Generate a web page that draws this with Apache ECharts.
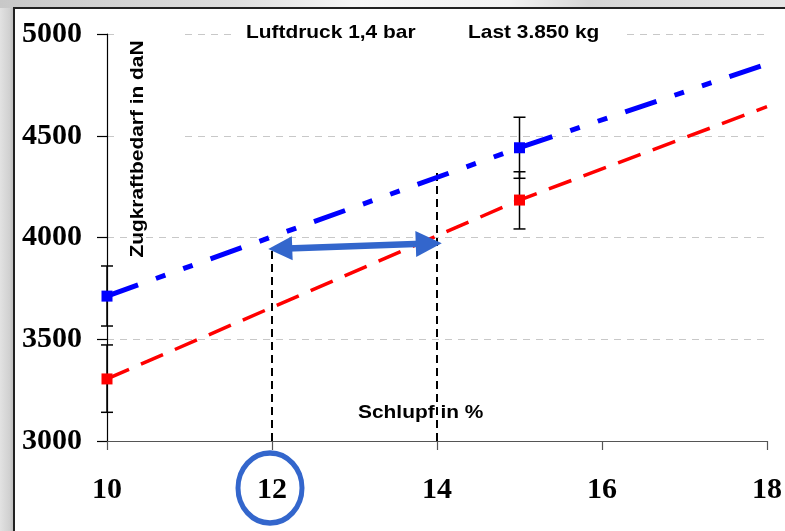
<!DOCTYPE html>
<html><head><meta charset="utf-8">
<script src="https://cdn.jsdelivr.net/npm/echarts@6/dist/echarts.min.js"></script>
<style>html,body{margin:0;padding:0;background:#fff}#c{width:785px;height:531px}</style>
</head><body><div id="c"></div>
<script>
// Schlupf (%) positions of the trend lines
const slipX = [10, 15, 18];
const drawbarBlue = [3712, 4441, 4853];
const drawbarRed = [3305, 4184, 4643];
const markerShown = [true, true, false];
// error bars
const errX = [10, 15];
const blueErrLow = [3565, 4291];
const blueErrHigh = [3860, 4591];
const redErrLow = [3141, 4042];
const redErrHigh = [3472, 4323];
// vertical reference lines
const refX = [12, 14];
const refTop = [3950, 4325];
// double arrow (symbol centres)
const arrowFrom = [12.1, 3945];
const arrowTo = [13.9, 3970];
// axes
const xMin = 10, xMax = 18, xStep = 2;
const yMin = 3000, yMax = 5000, yStep = 500;
const circledTick = 12;

const chart = echarts.init(document.getElementById('c'));

function lineData(vals) {
  return slipX.map((x, i) => markerShown[i] ? [x, vals[i]] : {value: [x, vals[i]], symbol: 'none'});
}
const errData = [];
errX.forEach((x, i) => { errData.push([x, blueErrLow[i], blueErrHigh[i]]); errData.push([x, redErrLow[i], redErrHigh[i]]); });

const labelFont = {fontFamily: '"Liberation Serif", "DejaVu Serif", serif', fontWeight: 'bold', fontSize: 30, color: '#000'};

chart.setOption({
  animation: false,
  backgroundColor: '#fff',
  grid: {left: 107, right: 14, top: 34, bottom: 90, containLabel: false},
  xAxis: {
    type: 'value', min: xMin, max: xMax, interval: xStep,
    axisLine: {show: true, onZero: false, lineStyle: {color: '#555', width: 1.2}},
    axisTick: {show: true, length: 9, lineStyle: {color: '#555', width: 1.2}},
    axisLabel: Object.assign({margin: 34, formatter: v => String(v)}, labelFont),
    splitLine: {show: false}
  },
  yAxis: {
    type: 'value', min: yMin, max: yMax, interval: yStep,
    axisLine: {show: true, lineStyle: {color: '#000', width: 1.2}},
    axisTick: {show: true, length: 10, lineStyle: {color: '#000', width: 1.2}},
    axisLabel: Object.assign({margin: 25, formatter: v => String(v)}, labelFont),
    splitLine: {show: true, lineStyle: {color: '#c8c8c8', width: 1, type: [7, 6]}}
  },
  series: [
    {
      type: 'custom', name: 'err', z: 3,
      data: errData,
      renderItem: function (params, api) {
        const x = api.value(0);
        const pLo = api.coord([x, api.value(1)]);
        const pHi = api.coord([x, api.value(2)]);
        const w = 6, st = {stroke: '#000', lineWidth: 1.5};
        return {type: 'group', children: [
          {type: 'line', shape: {x1: pLo[0], y1: pLo[1], x2: pHi[0], y2: pHi[1]}, style: st},
          {type: 'line', shape: {x1: pLo[0] - w, y1: pLo[1], x2: pLo[0] + w, y2: pLo[1]}, style: st},
          {type: 'line', shape: {x1: pHi[0] - w, y1: pHi[1], x2: pHi[0] + w, y2: pHi[1]}, style: st}
        ]};
      }
    },
    {
      type: 'lines', coordinateSystem: 'cartesian2d', z: 3,
      data: refX.map((x, i) => ({coords: [[x, yMin], [x, refTop[i]]]})),
      symbol: 'none',
      lineStyle: {color: '#000', width: 2, type: [8, 5], opacity: 1}
    },
    {
      type: 'line', name: 'blue', z: 4,
      data: lineData(drawbarBlue),
      symbol: 'rect', symbolSize: 11,
      itemStyle: {color: '#0000ff'},
      lineStyle: {color: '#0000ff', width: 5, type: [33, 19, 10, 19, 10, 19]}
    },
    {
      type: 'line', name: 'red', z: 4,
      data: lineData(drawbarRed),
      symbol: 'rect', symbolSize: 11,
      itemStyle: {color: '#ff0000'},
      lineStyle: {color: '#ff0000', width: 3.5, type: [24, 13]}
    },
    {
      type: 'lines', coordinateSystem: 'cartesian2d', z: 5,
      data: [{coords: [arrowFrom, arrowTo]}],
      symbol: ['triangle', 'triangle'], symbolSize: [24, 26],
      lineStyle: {color: '#3366cc', width: 6.5, opacity: 1},
      itemStyle: {color: '#3366cc'}
    }
  ]
});

const tickPx = chart.convertToPixel({gridIndex: 0}, [circledTick, yMin]);
const txtFont = 'bold 19px "Liberation Sans", Arial, sans-serif';

chart.setOption({
  graphic: [
    // outer shading
    {type: 'rect', z: -10, silent: true, shape: {x: 0, y: 0, width: 14, height: 531},
      style: {fill: new echarts.graphic.LinearGradient(0, 0, 1, 0, [{offset: 0, color: '#e2e2e2'}, {offset: 0.7, color: '#d0d0d0'}, {offset: 1, color: '#b8b8b8'}])}},
    {type: 'rect', z: -10, silent: true, shape: {x: 0, y: 0, width: 785, height: 8},
      style: {fill: new echarts.graphic.LinearGradient(0, 0, 1, 0, [{offset: 0, color: '#c8c8c8'}, {offset: 0.3, color: '#dedede'}, {offset: 0.45, color: '#f6f6f6'}, {offset: 0.65, color: '#f2f2f2'}, {offset: 0.75, color: '#d6d6d6'}, {offset: 1, color: '#e6e6e6'}])}},
    {type: 'polyline', z: -5, silent: true, shape: {points: [[14, 531], [14, 8], [785, 8]]},
      style: {stroke: '#222', lineWidth: 2, fill: null}},
    // white boxes behind texts
    {type: 'rect', z: 1, silent: true, shape: {x: 116, y: 24, width: 69, height: 206}, style: {fill: '#fff'}},
    {type: 'rect', z: 1, silent: true, shape: {x: 232, y: 22, width: 394, height: 24}, style: {fill: '#fff'}},
    // texts
    {type: 'text', z: 10, x: 246, y: 33, scaleX: 1.1, style: {text: 'Luftdruck 1,4 bar', x: 0, y: 0, align: 'left', verticalAlign: 'middle', font: txtFont, fill: '#000'}},
    {type: 'text', z: 10, x: 468, y: 33, scaleX: 1.1, style: {text: 'Last 3.850 kg', x: 0, y: 0, align: 'left', verticalAlign: 'middle', font: txtFont, fill: '#000'}},
    {type: 'text', z: 10, x: 358, y: 413, scaleX: 1.1, style: {text: 'Schlupf in %', x: 0, y: 0, align: 'left', verticalAlign: 'middle', font: txtFont, fill: '#000'}},
    {type: 'text', z: 10, x: 138, y: 149, rotation: Math.PI / 2, scaleX: 1.1, style: {text: 'Zugkraftbedarf in daN', x: 0, y: 0, align: 'center', verticalAlign: 'middle', font: txtFont, fill: '#000'}},
    // circle around tick label
    {type: 'circle', z: 10, x: tickPx[0] - 2, y: 488, scaleY: 35 / 32, shape: {cx: 0, cy: 0, r: 32},
      style: {stroke: '#3366cc', lineWidth: 5, fill: null}}
  ]
});
</script>
</body></html>
